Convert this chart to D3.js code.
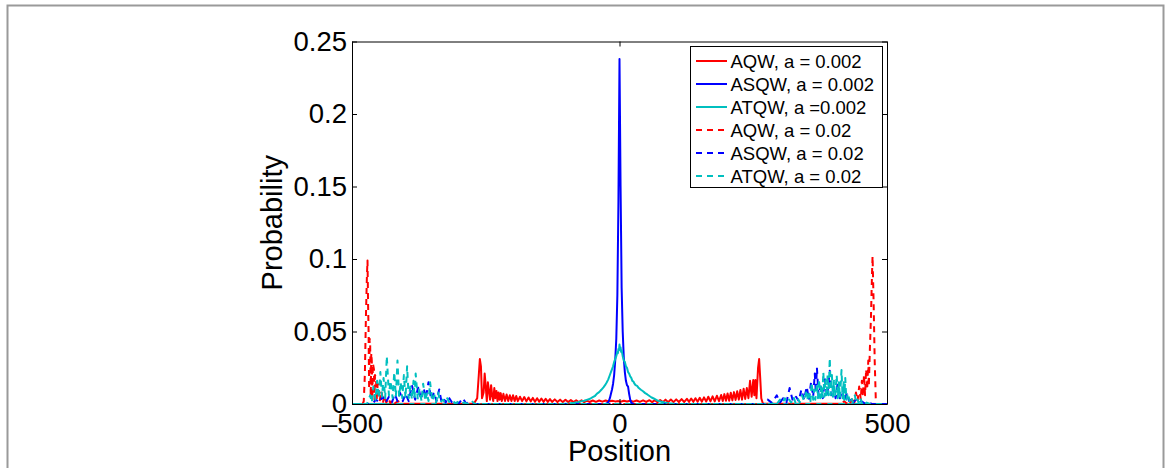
<!DOCTYPE html>
<html>
<head>
<meta charset="utf-8">
<script src="https://cdn.jsdelivr.net/npm/d3@7"></script>
<style>
  html, body { margin: 0; padding: 0; background: #fff; }
  svg { display: block; font-family: "Liberation Sans", Arial, Helvetica, sans-serif; }
</style>
</head>
<body>
<svg id="chart" width="1170" height="468"></svg>
<script>
// ---------------- data ----------------
const xTicks = [-500, 0, 500];
const yTicks = [0, 0.05, 0.1, 0.15, 0.2, 0.25];
const xTickLabels = ["\u2013500", "0", "500"];
const yTickLabels = ["0", "0.05", "0.1", "0.15", "0.2", "0.25"];

// AQW, a = 0.002 (solid red)
const aqwSmall = [[-500,0],[-272,0.0003],[-266,0.004],[-263,0.02],[-261,0.031],[-259,0.026],[-257,0.004],[-254,0.008],[-252,0.021],[-250,0.012],[-248,0.002],[-246,0.015],[-244,0.009],[-242,0.003],[-240,0.013],[-238,0.006],[-236,0.002],[-234,0.011],[-232,0.004],[-230,0.009],[-228,0.002],[-226,0.008],[-224,0.003],[-222,0.0075],[-220,0.002],[-217,0.007],[-214,0.002],[-211,0.0065],[-208,0.002],[-205,0.006],[-202,0.002],[-199,0.006],[-196,0.002],[-193,0.0055],[-190,0.002],[-186,0.005],[-182,0.002],[-178,0.0048],[-174,0.0018],[-170,0.0045],[-166,0.0018],[-162,0.0042],[-158,0.0016],[-154,0.004],[-150,0.0016],[-146,0.0038],[-142,0.0015],[-138,0.0036],[-134,0.0015],[-130,0.0034],[-126,0.0014],[-121,0.0032],[-116,0.0014],[-111,0.003],[-106,0.0013],[-101,0.0029],[-96,0.0013],[-91,0.0027],[-86,0.0013],[-81,0.0026],[-76,0.0013],[-71,0.0025],[-66,0.0013],[-61,0.0024],[-56,0.0014],[-50,0.0024],[-44,0.0015],[-38,0.0024],[-32,0.0016],[-26,0.0024],[-20,0.0017],[-14,0.0023],[-8,0.0018],[-2,0.002],[2,0.0016],[8,0.0022],[14,0.0017],[20,0.0023],[26,0.0016],[32,0.0024],[38,0.0015],[44,0.0025],[50,0.0014],[56,0.0026],[61,0.0013],[66,0.0027],[71,0.0013],[76,0.0028],[81,0.0013],[86,0.003],[91,0.0013],[96,0.0031],[101,0.0013],[106,0.0032],[111,0.0014],[116,0.0034],[121,0.0014],[126,0.0036],[130,0.0015],[134,0.0038],[138,0.0015],[142,0.004],[146,0.0016],[150,0.0043],[154,0.0016],[158,0.0046],[162,0.0017],[166,0.005],[170,0.0018],[174,0.0053],[178,0.0018],[182,0.0057],[186,0.002],[190,0.0062],[193,0.002],[196,0.0068],[199,0.0022],[202,0.0072],[205,0.0022],[208,0.0078],[211,0.0025],[214,0.0082],[217,0.0028],[220,0.0088],[223,0.003],[226,0.0097],[229,0.003],[232,0.0105],[235,0.0035],[238,0.011],[241,0.004],[244,0.016],[247,0.005],[250,0.0165],[252,0.006],[254,0.0166],[256,0.004],[259,0.025],[261,0.031],[263,0.018],[265,0.004],[268,0.0003],[500,0]];

// ASQW, a = 0.002 (solid blue)
const asqwSmall = [[-500,0],[-26,0],[-22,0.0008],[-20,0.002],[-18,0.004],[-16,0.007],[-14,0.01],[-12,0.014],[-10,0.02],[-8,0.03],[-6,0.045],[-4,0.075],[-2,0.14],[0,0.238],[2,0.15],[4,0.08],[6,0.05],[8,0.032],[10,0.022],[12,0.016],[14,0.013],[16,0.012],[18,0.007],[20,0.003],[22,0.001],[26,0],[500,0]];

// ATQW, a = 0.002 (solid cyan)
const atqwSmall = [[-500,0],[-110,0],[-95,0.0004],[-85,0.0008],[-78,0.0012],[-72,0.0018],[-66,0.0022],[-60,0.003],[-55,0.0036],[-50,0.0048],[-46,0.0055],[-42,0.0072],[-38,0.0082],[-34,0.0098],[-30,0.0115],[-27,0.013],[-24,0.0148],[-21,0.017],[-18,0.02],[-15,0.023],[-12,0.026],[-10,0.029],[-8,0.031],[-6,0.033],[-4,0.036],[-3,0.035],[-2,0.038],[-1,0.037],[0,0.041],[1,0.038],[2,0.039],[3,0.036],[4,0.037],[6,0.033],[8,0.03],[10,0.029],[12,0.026],[14,0.025],[16,0.022],[18,0.021],[20,0.019],[22,0.018],[24,0.016],[26,0.0155],[28,0.014],[30,0.013],[33,0.0125],[36,0.011],[40,0.0098],[44,0.0088],[48,0.0075],[52,0.0066],[56,0.0055],[60,0.0045],[64,0.0038],[68,0.003],[72,0.0022],[78,0.0016],[84,0.001],[92,0.0005],[105,0],[500,0]];

// AQW, a = 0.02 (dashed red)
const aqwLarge = [[-500,0],[-480,0],[-478,0.002],[-476,0.02],[-474,0.06],[-472,0.09],[-471,0.099],[-470,0.07],[-469,0.05],[-468,0.01],[-467,0.045],[-466,0.04],[-465,0.005],[-464,0.035],[-463,0.03],[-462,0.004],[-461,0.028],[-459,0.024],[-458,0.003],[-457,0.02],[-455,0.017],[-454,0.002],[-452,0.014],[-450,0.012],[-448,0.002],[-446,0.009],[-444,0.007],[-442,0.001],[-440,0.006],[-436,0.001],[-432,0.004],[-428,0.0005],[-424,0.003],[-420,0.0005],[-414,0.002],[-408,0],[408,0],[416,0.0005],[420,0.002],[424,0.0005],[428,0.003],[432,0.001],[436,0.005],[439,0.001],[442,0.008],[445,0.002],[448,0.012],[451,0.003],[453,0.016],[455,0.005],[457,0.02],[459,0.006],[461,0.024],[463,0.01],[465,0.03],[466,0.012],[468,0.038],[470,0.06],[472,0.09],[473,0.102],[475,0.07],[477,0.03],[479,0.004],[481,0],[500,0]];

// ASQW, a = 0.02 (dashed blue)
const asqwLarge = [[-500,0],[-468,0],[-460,0.001],[-455,0.003],[-449,0.001],[-443,0.005],[-437,0.001],[-431,0.005],[-425,0.0015],[-420,0.007],[-415,0.002],[-410,0.0076],[-405,0.002],[-400,0.007],[-394,0.002],[-388,0.013],[-382,0.003],[-376,0.012],[-371,0.003],[-366,0.011],[-362,0.004],[-357,0.015],[-352,0.003],[-347,0.008],[-342,0.002],[-337,0.01],[-333,0.002],[-329,0.004],[-325,0.001],[-320,0.005],[-313,0.001],[-306,0.002],[-300,0.0005],[-293,0.004],[-287,0.0005],[-282,0.001],[-275,0],[270,0],[277,0.003],[285,0.0008],[294,0.006],[300,0.001],[306,0.004],[312,0.001],[318,0.011],[324,0.002],[330,0.005],[335,0.002],[340,0.01],[345,0.003],[350,0.012],[354,0.003],[358,0.015],[362,0.005],[365,0.021],[367,0.008],[369,0.025],[372,0.006],[376,0.012],[380,0.004],[384,0.017],[388,0.005],[393,0.023],[396,0.006],[400,0.012],[404,0.004],[408,0.015],[412,0.004],[416,0.009],[420,0.002],[425,0.0076],[429,0.002],[433,0.004],[437,0.001],[442,0.003],[447,0.0008],[452,0.002],[458,0.0005],[465,0.001],[472,0],[500,0]];

// ATQW, a = 0.02 (dashed cyan)
const atqwLarge = [[-500,0],[-472,0],[-466,0.006],[-463,0.001],[-460,0.012],[-456,0.003],[-453,0.016],[-450,0.004],[-447,0.022],[-444,0.005],[-441,0.018],[-438,0.004],[-435,0.033],[-431,0.006],[-428,0.016],[-424,0.004],[-421,0.022],[-418,0.005],[-415,0.03],[-412,0.005],[-409,0.015],[-406,0.004],[-403,0.02],[-400,0.004],[-397,0.026],[-394,0.004],[-391,0.012],[-388,0.003],[-385,0.016],[-383,0.004],[-381,0.021],[-377,0.003],[-374,0.01],[-370,0.002],[-367,0.014],[-363,0.002],[-360,0.008],[-357,0.002],[-354,0.015],[-350,0.002],[-346,0.006],[-343,0.001],[-339,0.008],[-335,0.001],[-330,0.003],[-326,0.001],[-322,0.004],[-317,0.0005],[-312,0.002],[-306,0.0005],[-300,0.002],[-295,0.0003],[-290,0.001],[-283,0],[-276,0.002],[-270,0],[285,0],[290,0.002],[295,0.0005],[300,0.003],[305,0.0008],[309,0.004],[313,0.001],[317,0.003],[321,0.001],[325,0.005],[329,0.001],[333,0.004],[337,0.001],[341,0.006],[345,0.002],[350,0.0097],[352,0.002],[355,0.007],[357,0.002],[359,0.015],[362,0.003],[364,0.01],[366,0.003],[369,0.014],[371,0.004],[373,0.017],[375,0.004],[377,0.012],[379,0.004],[381,0.022],[383,0.005],[385,0.018],[387,0.005],[389,0.02],[391,0.006],[393,0.0317],[395,0.006],[397,0.02],[399,0.005],[401,0.016],[403,0.005],[406,0.02],[408,0.004],[410,0.015],[412,0.004],[415,0.0234],[417,0.004],[419,0.015],[420,0.003],[422,0.018],[424,0.003],[427,0.0076],[430,0.002],[433,0.005],[436,0.001],[440,0.006],[442,0.001],[445,0.003],[447,0.0008],[450,0.0046],[453,0.0005],[456,0.002],[459,0.0003],[462,0.001],[468,0],[500,0]];

const seriesNames = ["AQW, a = 0.002", "ASQW, a = 0.002", "ATQW, a =0.002", "AQW, a = 0.02", "ASQW, a = 0.02", "ATQW, a = 0.02"];
const seriesData = [aqwSmall, asqwSmall, atqwSmall, aqwLarge, asqwLarge, atqwLarge];
const seriesColors = ["#ff0000", "#0000ff", "#00bfbf", "#ff0000", "#0000ff", "#00bfbf"];
const seriesDashed = [false, false, false, true, true, true];

// ---------------- layout ----------------
const svg = d3.select("#chart");
const plot = { left: 352, right: 887, top: 41.5, bottom: 404 };

// outer gray frame
svg.append("rect")
  .attr("x", 7.5).attr("y", 5.5)
  .attr("width", 1156).attr("height", 480)
  .attr("fill", "#fff").attr("stroke", "#9a9a9a").attr("stroke-width", 2);

const x = d3.scaleLinear().domain([-500, 500]).range([plot.left, plot.right]);
const y = d3.scaleLinear().domain([0, 0.25]).range([plot.bottom, plot.top]);

svg.append("defs").append("clipPath").attr("id", "clip")
  .append("rect")
  .attr("x", plot.left).attr("y", plot.top - 1)
  .attr("width", plot.right - plot.left).attr("height", plot.bottom - plot.top + 2);

// plot background
svg.append("rect")
  .attr("x", plot.left).attr("y", plot.top)
  .attr("width", plot.right - plot.left).attr("height", plot.bottom - plot.top)
  .attr("fill", "#fff");

// lines
const line = d3.line().x(d => x(d[0])).y(d => y(d[1]));
const gLines = svg.append("g").attr("clip-path", "url(#clip)");
seriesData.forEach((data, i) => {
  gLines.append("path")
    .datum(data)
    .attr("d", line)
    .attr("fill", "none")
    .attr("stroke", seriesColors[i])
    .attr("stroke-width", 2)
    .attr("stroke-linejoin", "round")
    .attr("stroke-dasharray", seriesDashed[i] ? "6,5" : null);
});

// axes (ticks inside, mirrored box)
const tickLen = 5;
const axisStyle = g => {
  g.select(".domain").attr("stroke", "#000").attr("stroke-width", 1);
  g.selectAll(".tick line").attr("stroke", "#000").attr("stroke-width", 1);
  g.selectAll("text").attr("fill", "#000").attr("font-size", "27.5px")
    .attr("font-family", "'Liberation Sans', Arial, Helvetica, sans-serif");
};

const xAxisBottom = d3.axisBottom(x).tickValues(xTicks)
  .tickFormat((d, i) => xTickLabels[i]).tickSizeInner(-tickLen).tickSizeOuter(0).tickPadding(9);
svg.append("g").attr("transform", `translate(0,${plot.bottom})`).call(xAxisBottom).call(axisStyle);

const xAxisTop = d3.axisTop(x).tickValues(xTicks).tickFormat("")
  .tickSizeInner(-tickLen).tickSizeOuter(0);
svg.append("g").attr("transform", `translate(0,${plot.top})`).call(xAxisTop).call(axisStyle);

const yAxisLeft = d3.axisLeft(y).tickValues(yTicks)
  .tickFormat((d, i) => yTickLabels[i]).tickSizeInner(-tickLen).tickSizeOuter(0).tickPadding(5);
svg.append("g").attr("transform", `translate(${plot.left},0)`).call(yAxisLeft).call(axisStyle);

const yAxisRight = d3.axisRight(y).tickValues(yTicks).tickFormat("")
  .tickSizeInner(-tickLen).tickSizeOuter(0);
svg.append("g").attr("transform", `translate(${plot.right},0)`).call(yAxisRight).call(axisStyle);

// axis titles
svg.append("text")
  .attr("x", (plot.left + plot.right) / 2).attr("y", 461)
  .attr("text-anchor", "middle").attr("font-size", "29px").attr("fill", "#000")
  .text("Position");

svg.append("text")
  .attr("transform", `translate(282,${(plot.top + plot.bottom) / 2}) rotate(-90)`)
  .attr("text-anchor", "middle").attr("font-size", "29px").attr("fill", "#000")
  .text("Probability");

// legend
const legend = { x: 690.5, y: 46.5, w: 192, h: 141, rowH: 23, firstRow: 61 };
const gLeg = svg.append("g");
gLeg.append("rect")
  .attr("x", legend.x).attr("y", legend.y)
  .attr("width", legend.w).attr("height", legend.h)
  .attr("fill", "#fff").attr("stroke", "#000").attr("stroke-width", 1);

seriesNames.forEach((name, i) => {
  const cy = legend.firstRow + i * legend.rowH;
  gLeg.append("line")
    .attr("x1", 696).attr("x2", 727).attr("y1", cy).attr("y2", cy)
    .attr("stroke", seriesColors[i]).attr("stroke-width", 2)
    .attr("stroke-dasharray", seriesDashed[i] ? "6,5" : null);
  gLeg.append("text")
    .attr("x", 730.5).attr("y", cy).attr("dy", "0.36em")
    .attr("font-size", "18.5px").attr("fill", "#000")
    .text(name);
});
</script>
</body>
</html>
